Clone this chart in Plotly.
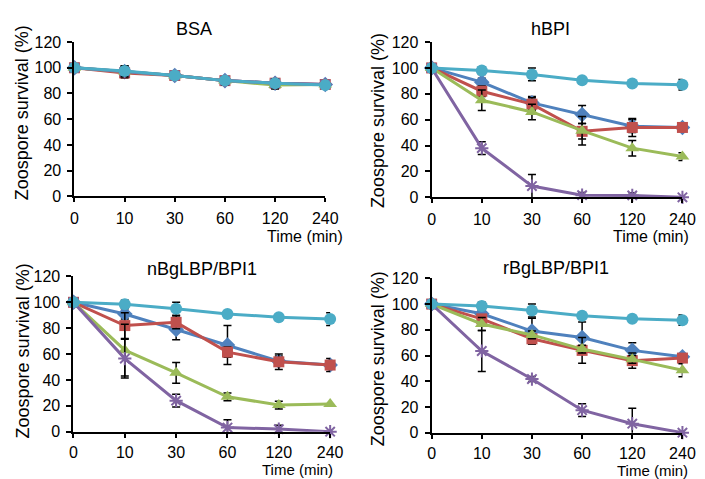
import plotly.graph_objects as go

time_labels = ["0", "10", "30", "60", "120", "240"]
panel_titles = ["BSA", "hBPI", "nBgLBP/BPI1", "rBgLBP/BPI1"]

# series order: blue diamond, red square, green triangle, purple x, cyan circle
series_names = ["S1", "S2", "S3", "S4", "S5"]

# BSA
bsa_blue = [100, 97, 94, 90, 88, 87]
bsa_red = [100, 96, 94, 90, 88, 87]
bsa_green = [100, 97, 94, 90, 86.5, 87]
bsa_purple = [100, 97, 94, 90, 88, 87]
bsa_cyan = [100, 97.5, 94, 90, 88, 86.5]
bsa_err = [0, 4, 2, 3, 3, 2]

# hBPI
hbpi_blue = [100, 89, 73, 64, 55, 54]
hbpi_red = [100, 82, 72, 51, 54, 54]
hbpi_green = [100, 75, 66, 51.5, 38, 31.5]
hbpi_purple = [100, 38, 8.7, 1.7, 1.5, 0]
hbpi_cyan = [100, 98, 95, 90.5, 88, 87]
hbpi_blue_err = [0, 3, 5, 7, 5, 0]
hbpi_red_err = [0, 4, 5, 6, 7, 0]
hbpi_green_err = [0, 8, 6, 11, 6, 3]
hbpi_purple_err = [0, 5, 9, 2, 2, 0]
hbpi_cyan_err = [0, 3, 5, 0, 0, 4]

# nBgLBP/BPI1
nbg_blue = [100, 91, 79, 67, 54.5, 51.5]
nbg_red = [100, 82, 84.5, 61.5, 54, 51.5]
nbg_green = [100, 63, 45.5, 27, 20.6, 21.5]
nbg_purple = [100, 56.5, 24, 3.2, 2, 0]
nbg_cyan = [100, 98.5, 95, 91, 88.5, 87]
nbg_blue_err = [0, 4, 8, 15, 4, 0]
nbg_red_err = [0, 10, 5, 4, 6, 5]
nbg_green_err = [0, 20, 8, 3, 3, 0]
nbg_purple_err = [0, 15, 5, 6, 3, 0]
nbg_cyan_err = [0, 3, 5, 0, 0, 5]

# rBgLBP/BPI1
rbg_blue = [100, 92.5, 79, 74, 64, 59]
rbg_red = [100, 88.5, 73, 64, 56, 58]
rbg_green = [100, 84.5, 76, 65, 57, 48.5]
rbg_purple = [100, 63.5, 41.7, 17.5, 7, 0]
rbg_cyan = [100, 98.5, 95, 91, 88.5, 87.5]
rbg_blue_err = [0, 3, 10, 12, 6, 0]
rbg_red_err = [0, 3, 4, 10, 6, 0]
rbg_green_err = [0, 5, 3, 3, 3, 5]
rbg_purple_err = [0, 16, 2, 5, 12, 0]
rbg_cyan_err = [0, 3, 5, 0, 0, 4]

panels = [
    [(bsa_blue, bsa_err), (bsa_red, bsa_err), (bsa_green, bsa_err), (bsa_purple, bsa_err), (bsa_cyan, bsa_err)],
    [(hbpi_blue, hbpi_blue_err), (hbpi_red, hbpi_red_err), (hbpi_green, hbpi_green_err),
     (hbpi_purple, hbpi_purple_err), (hbpi_cyan, hbpi_cyan_err)],
    [(nbg_blue, nbg_blue_err), (nbg_red, nbg_red_err), (nbg_green, nbg_green_err),
     (nbg_purple, nbg_purple_err), (nbg_cyan, nbg_cyan_err)],
    [(rbg_blue, rbg_blue_err), (rbg_red, rbg_red_err), (rbg_green, rbg_green_err),
     (rbg_purple, rbg_purple_err), (rbg_cyan, rbg_cyan_err)],
]

colors = ["#4F81BD", "#C0504D", "#9BBB59", "#8064A2", "#4BACC6"]
symbols = ["diamond", "square", "triangle-up", "asterisk-open", "circle"]
sizes = [12, 11, 12, 11, 12]

W, H = 705, 479


def px(x):
    return x / W


def py(y):
    return 1 - y / H


# pixel boxes: (left, right, top, bottom)
boxes = [(64, 321, 27, 187), (430, 687, 27, 188), (63, 326, 270, 431), (430, 687, 272, 432)]
x_standoff = [2, 2, 1, 1]

fig = go.Figure()
FONT = "Liberation Sans, Arial, sans-serif"

for i, (series, box) in enumerate(zip(panels, boxes)):
    l, r, t, b = box
    xa = "x" if i == 0 else f"x{i+1}"
    ya = "y" if i == 0 else f"y{i+1}"
    for j, (vals, err) in enumerate(series):
        fig.add_trace(go.Scatter(
            x=time_labels, y=vals, xaxis=xa, yaxis=ya, mode="lines+markers",
            name=series_names[j], showlegend=False, cliponaxis=False,
            line=dict(color=colors[j], width=3),
            marker=dict(symbol=symbols[j], size=sizes[j], color=colors[j],
                        line=dict(color=colors[j], width=2 if j == 3 else 0)),
            error_y=dict(type="data", array=err, visible=True, color="black",
                         thickness=1.5, width=4),
        ))
    axkey = "xaxis" if i == 0 else f"xaxis{i+1}"
    aykey = "yaxis" if i == 0 else f"yaxis{i+1}"
    fig.update_layout(**{
        axkey: dict(domain=[px(l), px(r)], anchor=ya, type="category",
                    range=[0, 5], showline=True, linecolor="black", linewidth=2,
                    ticks="outside", ticklen=4, tickwidth=1.5, tickcolor="black",
                    showgrid=False, zeroline=False, ticklabelstandoff=x_standoff[i],
                    tickfont=dict(family=FONT, size=16, color="black")),
        aykey: dict(domain=[py(b), py(t)], anchor=xa, range=[0, 120],
                    tickvals=[0, 20, 40, 60, 80, 100, 120], showline=True,
                    linecolor="black", linewidth=2, ticks="outside", ticklen=5,
                    tickwidth=1.5, tickcolor="black", showgrid=False,
                    zeroline=False, ticklabelstandoff=3,
                    tickfont=dict(family=FONT, size=16, color="black")),
    })

annotations = []
title_pos = [(186, 13), (552, 13), (195, 262), (557, 261)]
for title, (tx, ty) in zip(panel_titles, title_pos):
    annotations.append(dict(text=title, x=px(tx), y=py(ty), xref="paper", yref="paper",
                            xanchor="center", yanchor="middle", showarrow=False,
                            font=dict(family=FONT, size=18, color="black")))
ytitle_pos = [(11, 100), (375, 108), (11, 347), (375, 355)]
for (tx, ty) in ytitle_pos:
    annotations.append(dict(text="Zoospore survival (%)", x=px(tx), y=py(ty),
                            xref="paper", yref="paper", xanchor="center", yanchor="middle",
                            textangle=-90, showarrow=False,
                            font=dict(family=FONT, size=18, color="black")))
xtitle_pos = [(341, 229), (696, 229), (331, 470), (695, 471)]
xtitle_sizes = [16, 16, 15, 15]
for (tx, ty), fs in zip(xtitle_pos, xtitle_sizes):
    annotations.append(dict(text="Time (min)", x=px(tx), y=py(ty),
                            xref="paper", yref="paper", xanchor="right", yanchor="middle",
                            showarrow=False, font=dict(family=FONT, size=fs, color="black")))

fig.update_layout(width=W, height=H, margin=dict(l=0, r=0, t=0, b=0),
                  paper_bgcolor="white", plot_bgcolor="white",
                  annotations=annotations, showlegend=False)

fig.write_html("out.html")
